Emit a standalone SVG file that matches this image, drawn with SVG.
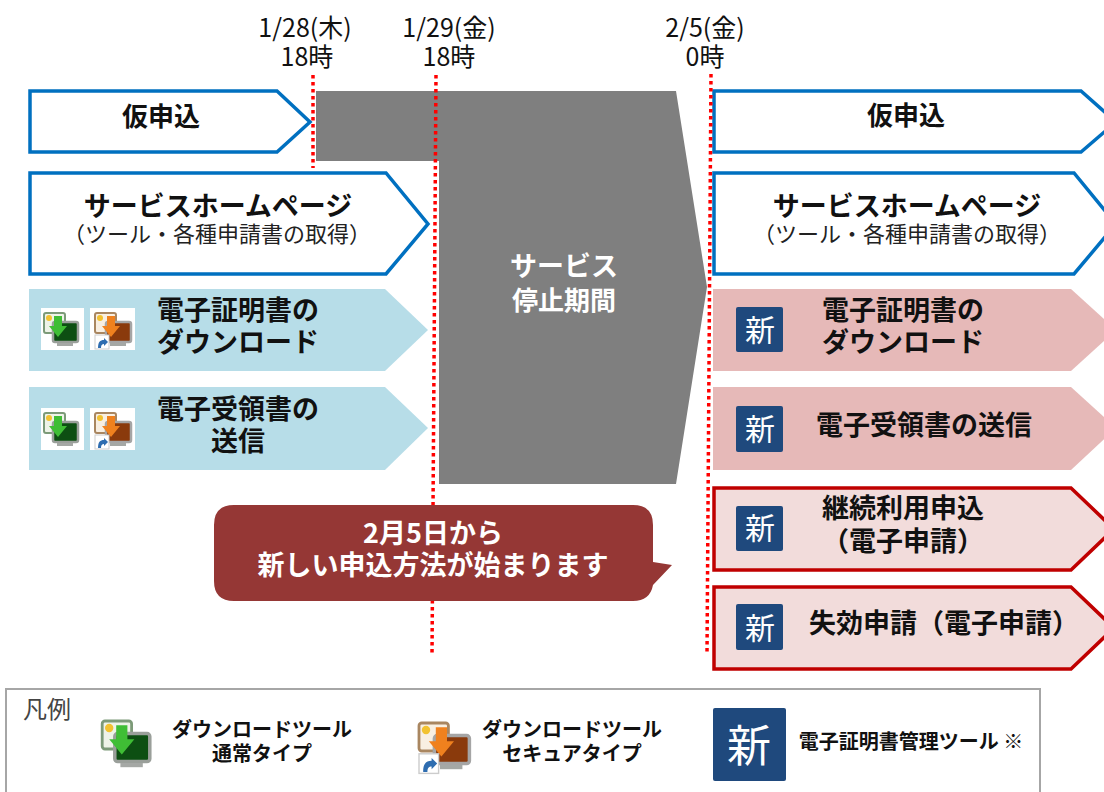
<svg xmlns="http://www.w3.org/2000/svg" width="1104" height="792" viewBox="0 0 1104 792">
<style>
text{font-family:"Noto Sans CJK JP","Liberation Sans",sans-serif;text-anchor:middle;fill:#111}
.b{font-weight:700;font-size:27px}
.d{font-size:25px}
.s{font-size:22px;fill:#222}
.l{font-weight:700;font-size:20px}
.w{fill:#fff}
.blue{fill:#fff;stroke:#0070c0;stroke-width:3.5}
.red{fill:#f2dcdb;stroke:#c00000;stroke-width:3.5}
.sky{fill:#b7dde8}
.pink{fill:#e6b9b8}
.dot{fill:none;stroke:#f00;stroke-width:3.5;stroke-dasharray:3.5 3.5}
.nb{fill:#1f497d}
.n{font-size:30px}
</style>
<defs>
<g id="ig">
<rect x="0" y="0" width="43" height="42" fill="#fff"/>
<rect x="3" y="5" width="21" height="20" rx="2" fill="#eef3e8" stroke="#7c9a78" stroke-width="2"/>
<rect x="12" y="14" width="25" height="20" rx="2" fill="#0d4f12" stroke="#9a9f9a" stroke-width="2.5"/>
<rect x="16" y="35" width="16" height="3" fill="#a5a8a5"/>
<path d="M13 8h8v10h5l-9 11-9-11h5z" fill="#3fbe35"/>
<circle cx="8" cy="10" r="3" fill="#f2c230"/>
</g>
<g id="io">
<rect x="0" y="0" width="45" height="42" fill="#fff"/>
<rect x="5" y="5" width="21" height="20" rx="2" fill="#f8efe2" stroke="#a98660" stroke-width="2"/>
<rect x="16" y="14" width="25" height="20" rx="2" fill="#8a3a0c" stroke="#a5a5a5" stroke-width="2.5"/>
<rect x="20" y="35" width="16" height="3" fill="#a5a8a5"/>
<path d="M17 8h8v10h5l-9 11-9-11h5z" fill="#f0811e"/>
<circle cx="10" cy="10" r="3" fill="#f2c230"/>
<rect x="5" y="27" width="14" height="14" fill="#fff" stroke="#ccc"/>
<path d="M8 40c0-6 2-8 6-8v-2l4 4-4 4v-2c-2 0-3 1-3 4z" fill="#2e6db0"/>
</g>
</defs>

<g id="dates">
<text class="d" x="305" y="37">1/28(木)</text><text class="d" x="307" y="66">18時</text>
<text class="d" x="449" y="37">1/29(金)</text><text class="d" x="449" y="66">18時</text>
<text class="d" x="705" y="37">2/5(金)</text><text class="d" x="705" y="66">0時</text>
</g>

<g id="stop">
<path d="M316 91H676L707 287 676 484H439V161H316Z" fill="#7f7f7f"/>
<text class="b w" x="564" y="276">サービス</text>
<text class="b w" x="564" y="310" style="font-size:26px">停止期間</text>
</g>

<g id="left1"><path class="blue" d="M30 91H277L310 122 277 152H30Z"/><text class="b" x="161" y="126" style="font-size:26px">仮申込</text></g>
<g id="left2"><path class="blue" d="M30 173H386L428 224 386 274H30Z"/><text class="b" x="218" y="216">サービスホームページ</text><text class="s" x="217" y="242">（ツール・各種申請書の取得）</text></g>
<g id="left3"><path class="sky" d="M29 289H385L428 330 385 371H29Z"/>
<use href="#ig" x="41" y="308"/><use href="#io" x="90" y="308"/>
<text class="b" x="238" y="320">電子証明書の</text><text class="b" x="238" y="352">ダウンロード</text></g>
<g id="left4"><path class="sky" d="M29 387H385L428 428 385 470H29Z"/>
<use href="#ig" x="41" y="408"/><use href="#io" x="90" y="408"/>
<text class="b" x="238" y="419">電子受領書の</text><text class="b" x="238" y="451">送信</text></g>

<g id="right1"><path class="blue" d="M714 91H1081L1116 122 1081 152H714Z"/><text class="b" x="906" y="125" style="font-size:26px">仮申込</text></g>
<g id="right2"><path class="blue" d="M714 173H1074L1116 224 1074 274H714Z"/><text class="b" x="907" y="216">サービスホームページ</text><text class="s" x="907" y="242">（ツール・各種申請書の取得）</text></g>
<g id="right3"><path class="pink" d="M713 289H1071L1116 330 1071 371H713Z"/>
<rect class="nb" x="736" y="307" width="47" height="45" rx="2"/><text class="w n" x="760" y="341">新</text>
<text class="b" x="903" y="320">電子証明書の</text><text class="b" x="903" y="352">ダウンロード</text></g>
<g id="right4"><path class="pink" d="M713 387H1071L1116 428 1071 470H713Z"/>
<rect class="nb" x="736" y="406" width="47" height="46" rx="2"/><text class="w n" x="760" y="440">新</text>
<text class="b" x="924" y="435">電子受領書の送信</text></g>
<g id="right5"><path class="red" d="M714 488H1071L1114 529 1071 570H714Z"/>
<rect class="nb" x="736" y="506" width="47" height="45" rx="2"/><text class="w n" x="760" y="539">新</text>
<text class="b" x="903" y="518">継続利用申込</text><text class="b" x="903" y="551">（電子申請）</text></g>
<g id="right6"><path class="red" d="M714 587H1071L1114 628 1071 669H714Z"/>
<rect class="nb" x="736" y="604" width="47" height="46" rx="2"/><text class="w n" x="760" y="639">新</text>
<text class="b" x="944" y="633">失効申請（電子申請）</text></g>

<g id="connectors">
<path class="dot" d="M313 75V168"/>
<path class="dot" d="M436 75L432 656"/>
<path class="dot" d="M711 74L707 655"/>
</g>

<g id="callout">
<path d="M234 505H633Q653 505 653 525V562L672 565 653 585Q650 601 633 601H234Q214 601 214 581V525Q214 505 234 505Z" fill="#953735"/>
<text class="b w" x="433" y="543">2月5日から</text>
<text class="b w" x="433" y="575">新しい申込方法が始まります</text>
</g>

<g id="legend">
<rect x="6" y="689" width="1034" height="110" fill="#fff" stroke="#a6a6a6" stroke-width="2"/>
<text x="47" y="718" style="font-size:24px;fill:#444">凡例</text>
<use href="#ig" transform="translate(98 714) scale(1.4)"/>
<text class="l" x="262" y="737">ダウンロードツール</text><text class="l" x="262" y="761">通常タイプ</text>
<use href="#io" transform="translate(412 716) scale(1.4)"/>
<text class="l" x="572" y="737">ダウンロードツール</text><text class="l" x="572" y="761">セキュアタイプ</text>
<rect class="nb" x="713" y="708" width="73" height="73" rx="2"/><text class="w" x="749" y="762" style="font-size:44px">新</text>
<text class="l" x="911" y="749">電子証明書管理ツール ※</text>
</g>
</svg>
